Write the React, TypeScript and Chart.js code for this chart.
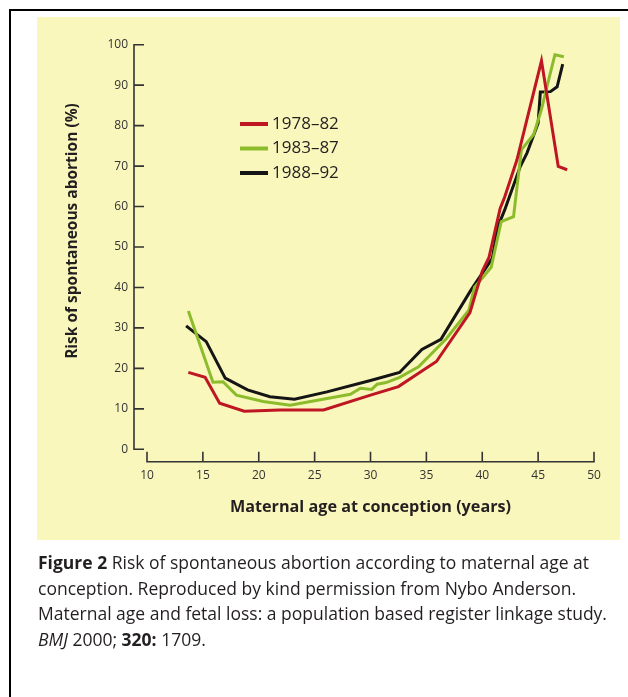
import React, { useEffect, useRef } from "react";
import { Chart, registerables } from "chart.js";

Chart.register(...registerables);

// ---- data ----
const ages7882 = [13.7, 15.2, 16.5, 18.7, 21.9, 25.8, 30.0, 32.5, 34.3, 35.9, 38.9, 40.0, 40.6, 41.6, 42.0, 43.1, 45.3, 46.8, 47.6];
const risk7882 = [19.0, 17.8, 11.4, 9.4, 9.7, 9.7, 13.4, 15.5, 18.8, 21.7, 33.8, 44.0, 47.4, 59.5, 62.3, 71.5, 96.0, 69.9, 69.1];

const ages8387 = [13.7, 15.9, 16.8, 18.0, 20.4, 22.8, 28.2, 29.1, 30.1, 30.6, 31.4, 32.6, 34.3, 36.8, 38.8, 39.3, 40.8, 41.7, 42.8, 43.5, 44.6, 45.3, 46.0, 46.5, 47.3];
const risk8387 = [34.2, 16.6, 16.7, 13.4, 11.8, 10.9, 13.6, 15.1, 14.8, 16.1, 16.5, 17.8, 20.4, 27.4, 34.4, 40.0, 45.0, 56.3, 57.5, 74.0, 77.8, 84.0, 92.0, 97.5, 97.0];

const ages8892 = [13.5, 15.3, 17.0, 19.0, 21.0, 23.2, 26.1, 30.0, 32.6, 34.6, 36.3, 39.0, 40.9, 41.4, 42.0, 43.4, 44.0, 45.0, 45.2, 46.1, 46.7, 47.2];
const risk8892 = [30.5, 26.6, 17.6, 14.7, 13.0, 12.4, 14.2, 17.0, 19.0, 24.7, 27.2, 39.4, 47.2, 55.0, 59.1, 69.9, 73.2, 80.6, 88.3, 88.4, 89.6, 95.2];

const seriesLabels = ["1978–82", "1983–87", "1988–92"];
const seriesColors = ["#be1622", "#8cbc2c", "#151515"];

const xMin = 10;
const xMax = 50;
const xStep = 5;
const yMin = 0;
const yMax = 100;
const yStep = 10;

const xTitle = "Maternal age at conception (years)";
const yTitle = "Risk of spontaneous abortion (%)";

const FONT = "'Open Sans', 'Noto Sans', sans-serif";

const toPoints = (xs: number[], ys: number[]) => xs.map((x, i) => ({ x, y: ys[i] }));

const axesPlugin = {
  id: "offsetAxes",
  beforeDatasetsDraw(chart: any) {
    const { ctx, chartArea, scales } = chart;
    const xs = scales.x;
    const ys = scales.y;
    ctx.save();
    ctx.strokeStyle = "#333333";
    ctx.lineWidth = 1.6;
    ctx.lineCap = "butt";
    // y axis (offset left of the plotting area)
    const ax = chartArea.left - 13;
    ctx.beginPath();
    ctx.moveTo(ax, ys.getPixelForValue(yMin));
    ctx.lineTo(ax, ys.getPixelForValue(yMax));
    ys.ticks.forEach((t: any) => {
      const py = ys.getPixelForValue(t.value);
      ctx.moveTo(ax - 0.8, py);
      ctx.lineTo(ax + 10, py);
    });
    // x axis (offset below the plotting area)
    const ay = chartArea.bottom + 12.4;
    ctx.moveTo(xs.getPixelForValue(xMin), ay);
    ctx.lineTo(xs.getPixelForValue(xMax), ay);
    xs.ticks.forEach((t: any) => {
      const px = xs.getPixelForValue(t.value);
      ctx.moveTo(px, ay + 0.8);
      ctx.lineTo(px, ay - 10);
    });
    ctx.stroke();

    // y axis title
    ctx.fillStyle = "#231f20";
    ctx.font = `bold 15.5px ${FONT}`;
    ctx.textAlign = "center";
    ctx.textBaseline = "middle";
    ctx.translate(73, 231);
    ctx.rotate(-Math.PI / 2);
    ctx.fillText(yTitle, 0, 0);
    ctx.restore();
  },
  afterDatasetsDraw(chart: any) {
    const { ctx } = chart;
    ctx.save();
    ctx.font = `17px ${FONT}`;
    ctx.textAlign = "left";
    ctx.textBaseline = "middle";
    chart.data.datasets.forEach((ds: any, i: number) => {
      const cy = 124 + i * 24.5;
      ctx.strokeStyle = ds.borderColor;
      ctx.lineWidth = 4;
      ctx.beginPath();
      ctx.moveTo(240, cy);
      ctx.lineTo(268, cy);
      ctx.stroke();
      ctx.fillStyle = "#231f20";
      ctx.fillText(ds.label, 272, cy);
    });
    ctx.restore();
  },
};

function ChartCanvas() {
  const ref = useRef<HTMLCanvasElement | null>(null);
  useEffect(() => {
    if (!ref.current) return;
    const chart = new Chart(ref.current, {
      type: "line",
      data: {
        datasets: [
          { label: seriesLabels[0], data: toPoints(ages7882, risk7882), borderColor: seriesColors[0] },
          { label: seriesLabels[1], data: toPoints(ages8387, risk8387), borderColor: seriesColors[1] },
          { label: seriesLabels[2], data: toPoints(ages8892, risk8892), borderColor: seriesColors[2] },
        ].map((d) => ({
          ...d,
          borderWidth: 3,
          pointRadius: 0,
          fill: false,
          tension: 0,
          borderJoinStyle: "miter" as const,
        })),
      },
      options: {
        responsive: false,
        animation: false,
        devicePixelRatio: 1,
        layout: { padding: { left: 0, right: 34, top: 44.7, bottom: 0 } },
        plugins: { legend: { display: false }, tooltip: { enabled: false } },
        scales: {
          x: {
            type: "linear",
            min: xMin,
            max: xMax,
            afterFit: (s: any) => {
              s.height = 247.7;
            },
            grid: { display: false, drawTicks: false },
            border: { display: false },
            ticks: { stepSize: xStep, padding: 19.5, color: "#333333", font: { family: FONT, size: 12 } },
            title: {
              display: true,
              text: xTitle,
              color: "#231f20",
              font: { family: FONT, size: 16.2, weight: "bold" },
              padding: { top: 0, bottom: 180 },
            },
          },
          y: {
            type: "linear",
            min: yMin,
            max: yMax,
            afterFit: (s: any) => {
              s.width = 147;
            },
            grid: { display: false, drawTicks: false },
            border: { display: false },
            ticks: { stepSize: yStep, padding: 19, color: "#333333", font: { family: FONT, size: 12 } },
          },
        },
      },
      plugins: [axesPlugin],
    } as any);
    return () => chart.destroy();
  }, []);
  return (
    <canvas
      ref={ref}
      width={628}
      height={697}
      style={{ position: "absolute", left: 0, top: 0, width: 628, height: 697 }}
    />
  );
}

export default function App() {
  return (
    <div
      style={{
        position: "fixed",
        left: 0,
        top: 0,
        width: 628,
        height: 697,
        overflow: "hidden",
        background: "#ffffff",
      }}
    >
      <div
        style={{
          position: "absolute",
          left: 9,
          top: 9,
          width: 700,
          height: 760,
          border: "2px solid #000",
        }}
      />
      <div
        style={{
          position: "absolute",
          left: 37,
          top: 17,
          width: 583,
          height: 523,
          background: "#faf7bd",
        }}
      />
      <ChartCanvas />
      <div
        style={{
          position: "absolute",
          left: 38,
          top: 550,
          width: 590,
          fontFamily: FONT,
          fontSize: 17.5,
          lineHeight: "25.5px",
          color: "#231f20",
          whiteSpace: "nowrap",
        }}
      >
        <div>
          <b>Figure 2</b> Risk of spontaneous abortion according to maternal age at
        </div>
        <div>conception. Reproduced by kind permission from Nybo Anderson.</div>
        <div>Maternal age and fetal loss: a population based register linkage study.</div>
        <div>
          <i>BMJ</i> 2000; <b>320:</b> 1709.
        </div>
      </div>
    </div>
  );
}
